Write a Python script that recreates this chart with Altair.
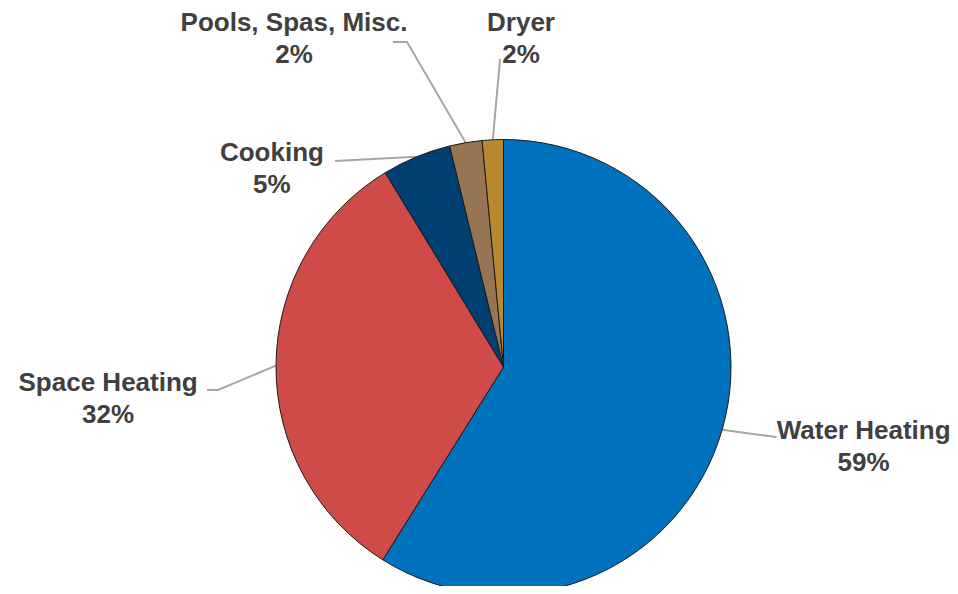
import altair as alt
import numpy as np
import pandas as pd

# ---- data ----
categories = ["Water Heating", "Space Heating", "Cooking", "Pools, Spas, Misc.", "Dryer"]
shares = [58.9, 32.4, 4.9, 2.3, 1.5]
pct_labels = ["59%", "32%", "5%", "2%", "2%"]
colors = ["#0071BD", "#CE4B48", "#003F71", "#957553", "#BA892F"]

# label centres, in pie-radius units relative to the pie centre
label_x = [1.583, -1.738, -1.018, -0.921, 0.077]
label_y = [-0.352, -0.141, 0.870, 1.44, 1.44]
# leader line starts (label side) and optional elbows, in pie-radius units
leader_start = [(1.200, -0.308), (-1.303, -0.101), (-0.741, 0.905), (-0.486, 1.429), (-0.015, 1.354)]
leader_elbow = [None, (-1.255, -0.101), None, (-0.424, 1.429), None]

# ---- layout ----
W, H = 942, 578
R = 227.5
CX, CY = 495.5, 359.0
xdom = [-CX / R, (W - CX) / R]
ydom = [-(H - CY) / R, CY / R]
xscale = alt.Scale(domain=xdom, nice=False, zero=False)
yscale = alt.Scale(domain=ydom, nice=False, zero=False)

pie_df = pd.DataFrame({
    "cat": categories,
    "share": shares,
    "idx": list(range(len(categories))),
    "cx": 0.0,
    "cy": 0.0,
})

lab_df = pd.DataFrame({
    "lab": [f"{c}\n{p}" for c, p in zip(categories, pct_labels)],
    "lx": label_x,
    "ly": label_y,
})

# leader lines end on the pie edge at each slice's mid angle
tot = sum(shares)
cum = np.cumsum([0] + shares[:-1])
rows = []
for i, c in enumerate(categories):
    mid = (cum[i] + shares[i] / 2) / tot * 2 * np.pi
    pts = [leader_start[i]]
    if leader_elbow[i] is not None:
        pts.append(leader_elbow[i])
    pts.append((np.sin(mid), np.cos(mid)))
    for k, (px, py) in enumerate(pts):
        rows.append({"cat": c, "k": k, "px": px, "py": py})
lead_df = pd.DataFrame(rows)

pie = alt.Chart(pie_df).mark_arc(radius=R, stroke="#1a1a1a", strokeWidth=1).encode(
    x=alt.X("cx:Q", scale=xscale, axis=None),
    y=alt.Y("cy:Q", scale=yscale, axis=None),
    theta=alt.Theta("share:Q", stack=True),
    order=alt.Order("idx:Q", sort="ascending"),
    color=alt.Color("cat:N", scale=alt.Scale(domain=categories, range=colors), legend=None),
)

leaders = alt.Chart(lead_df).mark_line(color="#A6A6A6", strokeWidth=2).encode(
    x=alt.X("px:Q", scale=xscale, axis=None),
    y=alt.Y("py:Q", scale=yscale, axis=None),
    detail="cat:N",
    order="k:Q",
)

labels = alt.Chart(lab_df).mark_text(
    font="Liberation Sans", fontWeight="bold", fontSize=26, color="#404040",
    lineBreak="\n", lineHeight=32, align="center", baseline="middle", dy=-16,
).encode(
    x=alt.X("lx:Q", scale=xscale, axis=None),
    y=alt.Y("ly:Q", scale=yscale, axis=None),
    text="lab:N",
)

chart = alt.layer(leaders, pie, labels).properties(
    width=W, height=H, autosize=alt.AutoSizeParams(type="none"), padding=0,
    background="white",
).configure_view(stroke=None)

chart.save("out.html", embed_options={"renderer": "svg", "actions": False})
